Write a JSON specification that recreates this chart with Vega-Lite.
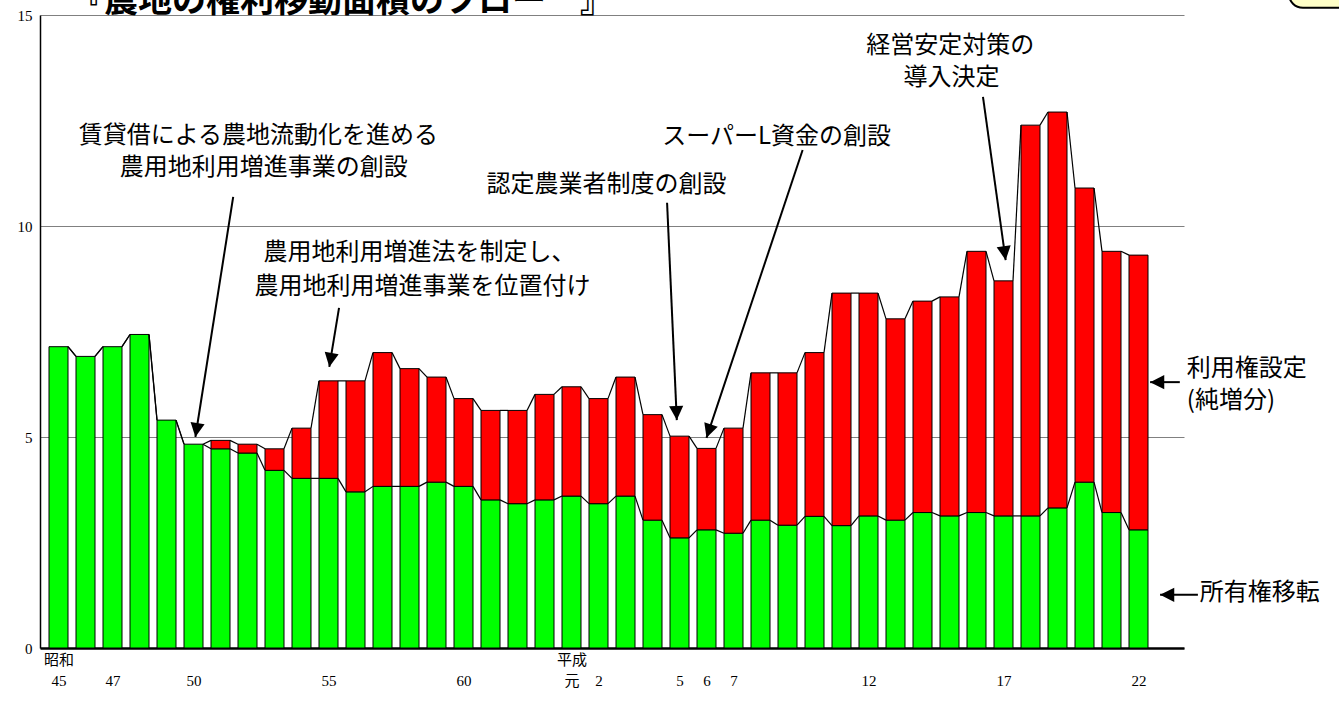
{
  "$schema": "https://vega.github.io/schema/vega-lite/v6.json",
  "width": 1144,
  "height": 633,
  "autosize": "none",
  "padding": {"left": 40, "top": 15, "right": 155, "bottom": 56},
  "background": "white",
  "config": {"view": {"stroke": null}},
  "datasets": {
    "flow": [
      {"year": 1970, "own": 7.14, "total": 7.14},
      {"year": 1971, "own": 6.91, "total": 6.91},
      {"year": 1972, "own": 7.14, "total": 7.14},
      {"year": 1973, "own": 7.43, "total": 7.43},
      {"year": 1974, "own": 5.40, "total": 5.40},
      {"year": 1975, "own": 4.83, "total": 4.83},
      {"year": 1976, "own": 4.72, "total": 4.92},
      {"year": 1977, "own": 4.62, "total": 4.83},
      {"year": 1978, "own": 4.21, "total": 4.72},
      {"year": 1979, "own": 4.02, "total": 5.21},
      {"year": 1980, "own": 4.02, "total": 6.33},
      {"year": 1981, "own": 3.70, "total": 6.33},
      {"year": 1982, "own": 3.83, "total": 7.00},
      {"year": 1983, "own": 3.83, "total": 6.62},
      {"year": 1984, "own": 3.93, "total": 6.42},
      {"year": 1985, "own": 3.83, "total": 5.91},
      {"year": 1986, "own": 3.51, "total": 5.63},
      {"year": 1987, "own": 3.42, "total": 5.63},
      {"year": 1988, "own": 3.51, "total": 6.01},
      {"year": 1989, "own": 3.60, "total": 6.19},
      {"year": 1990, "own": 3.42, "total": 5.91},
      {"year": 1991, "own": 3.60, "total": 6.42},
      {"year": 1992, "own": 3.03, "total": 5.53},
      {"year": 1993, "own": 2.61, "total": 5.02},
      {"year": 1994, "own": 2.80, "total": 4.73},
      {"year": 1995, "own": 2.72, "total": 5.21},
      {"year": 1996, "own": 3.03, "total": 6.52},
      {"year": 1997, "own": 2.91, "total": 6.52},
      {"year": 1998, "own": 3.12, "total": 7.00},
      {"year": 1999, "own": 2.90, "total": 8.41},
      {"year": 2000, "own": 3.13, "total": 8.41},
      {"year": 2001, "own": 3.03, "total": 7.80},
      {"year": 2002, "own": 3.21, "total": 8.22},
      {"year": 2003, "own": 3.13, "total": 8.32},
      {"year": 2004, "own": 3.21, "total": 9.40},
      {"year": 2005, "own": 3.13, "total": 8.70},
      {"year": 2006, "own": 3.13, "total": 12.39},
      {"year": 2007, "own": 3.32, "total": 12.70},
      {"year": 2008, "own": 3.93, "total": 10.90},
      {"year": 2009, "own": 3.21, "total": 9.40},
      {"year": 2010, "own": 2.80, "total": 9.31}
    ],
    "arrows": [
      {"name": "a", "x": 1976.47, "y": 10.69, "x2": 1975.07, "y2": 5.00},
      {"name": "b", "x": 1980.39, "y": 8.06, "x2": 1980.03, "y2": 6.66},
      {"name": "c", "x": 1992.54, "y": 10.55, "x2": 1992.90, "y2": 5.40},
      {"name": "d", "x": 1997.56, "y": 11.80, "x2": 1994.00, "y2": 4.98},
      {"name": "e", "x": 2004.24, "y": 13.06, "x2": 2005.08, "y2": 9.19},
      {"name": "f", "x": 2011.53, "y": 6.30, "x2": 2010.43, "y2": 6.30},
      {"name": "g", "x": 2012.2, "y": 1.26, "x2": 2010.8, "y2": 1.26}
    ],
    "notesCenter": [
      {"text": "賃貸借による農地流動化を進める", "x": 1977.4, "y": 12.13},
      {"text": "農用地利用増進事業の創設", "x": 1977.6, "y": 11.38},
      {"text": "農用地利用増進法を制定し、", "x": 1983.37, "y": 9.36},
      {"text": "農用地利用増進事業を位置付け", "x": 1983.48, "y": 8.55},
      {"text": "認定農業者制度の創設", "x": 1990.3, "y": 10.97},
      {"text": "スーパーL資金の創設", "x": 1996.6, "y": 12.11},
      {"text": "経営安定対策の", "x": 2003.03, "y": 14.27},
      {"text": "導入決定", "x": 2003.07, "y": 13.51}
    ],
    "notesLeft": [
      {"text": "利用権設定", "x": 2011.79, "y": 6.62},
      {"text": "(純増分)", "x": 2011.79, "y": 5.85},
      {"text": "所有権移転", "x": 2012.27, "y": 1.30}
    ],
    "heading": [
      {"text": "『農地の権利移動面積のフロー　』", "x": 1980.5, "y": 15.08}
    ],
    "callout": [
      {"x": 2015.57, "x2": 2020.2, "y": 16.1, "y2": 15.17}
    ]
  },
  "layer": [
    {
      "data": {"name": "flow"},
      "mark": {"type": "bar", "color": "#00FF00", "stroke": "black", "strokeWidth": 1, "width": 19},
      "encoding": {
        "x": {
          "field": "year", "type": "quantitative",
          "scale": {"domain": [1969.5, 2011.5], "nice": false, "zero": false},
          "axis": {
            "title": null,
            "values": [1970, 1972, 1975, 1980, 1985, 1989, 1990, 1993, 1994, 1995, 2000, 2005, 2010],
            "labelExpr": "datum.value == 1970 ? ['昭和', '45'] : datum.value == 1989 ? ['平成', '元'] : [' ', datum.value < 1989 ? '' + (datum.value - 1925) : '' + (datum.value - 1988)]",
            "labelFont": "Liberation Serif, Noto Sans CJK JP",
            "labelFontSize": 15,
            "labelColor": "black",
            "labelAngle": 0,
            "labelAlign": "center",
            "labelBaseline": "top",
            "labelLineHeight": 21,
            "labelPadding": 4,
            "labelOverlap": false,
            "labelBound": false,
            "labelFlush": false,
            "domainColor": "black",
            "domainWidth": 2.5,
            "ticks": false,
            "grid": false
          }
        },
        "y": {
          "field": "own", "type": "quantitative",
          "scale": {"domain": [0, 15], "nice": false, "zero": true},
          "axis": {
            "title": null,
            "values": [0, 5, 10, 15],
            "labelFont": "Liberation Serif",
            "labelFontSize": 15,
            "labelColor": "black",
            "labelPadding": 8,
            "domainColor": "black",
            "domainWidth": 1.5,
            "ticks": false,
            "grid": true,
            "gridColor": "#808080",
            "gridWidth": 1
          }
        }
      }
    },
    {
      "data": {"name": "flow"},
      "transform": [{"filter": "datum.total > datum.own"}],
      "mark": {"type": "bar", "color": "#FF0000", "stroke": "black", "strokeWidth": 1, "width": 19},
      "encoding": {
        "x": {"field": "year", "type": "quantitative"},
        "y": {"field": "total", "type": "quantitative"},
        "y2": {"field": "own"}
      }
    },
    {
      "data": {"name": "flow"},
      "transform": [
        {"window": [{"op": "lead", "field": "year", "as": "nextYear"}, {"op": "lead", "field": "own", "as": "nextOwn"}], "sort": [{"field": "year", "order": "ascending"}]},
        {"filter": "datum.nextYear != null"}
      ],
      "mark": {"type": "rule", "color": "black", "strokeWidth": 1.2, "xOffset": 9.5, "x2Offset": -9.5},
      "encoding": {
        "x": {"field": "year", "type": "quantitative"},
        "x2": {"field": "nextYear"},
        "y": {"field": "own", "type": "quantitative"},
        "y2": {"field": "nextOwn"}
      }
    },
    {
      "data": {"name": "flow"},
      "transform": [
        {"window": [{"op": "lead", "field": "year", "as": "nextYear"}, {"op": "lead", "field": "total", "as": "nextTotal"}], "sort": [{"field": "year", "order": "ascending"}]},
        {"filter": "datum.nextYear != null"}
      ],
      "mark": {"type": "rule", "color": "black", "strokeWidth": 1.2, "xOffset": 9.5, "x2Offset": -9.5},
      "encoding": {
        "x": {"field": "year", "type": "quantitative"},
        "x2": {"field": "nextYear"},
        "y": {"field": "total", "type": "quantitative"},
        "y2": {"field": "nextTotal"}
      }
    },
    {
      "data": {"name": "arrows"},
      "mark": {"type": "rule", "color": "black", "strokeWidth": 2},
      "encoding": {
        "x": {"field": "x", "type": "quantitative"},
        "x2": {"field": "x2"},
        "y": {"field": "y", "type": "quantitative"},
        "y2": {"field": "y2"}
      }
    },
    {
      "data": {"name": "arrows"},
      "mark": {"type": "point", "filled": true, "opacity": 1, "color": "black", "size": 200, "strokeWidth": 0},
      "encoding": {
        "x": {"field": "x2", "type": "quantitative"},
        "y": {"field": "y2", "type": "quantitative"},
        "shape": {
          "field": "name", "type": "nominal", "legend": null,
          "scale": {
            "domain": ["a", "b", "c", "d", "e", "f", "g"],
            "range": ["M0,0L1.30,-1.82L-0.68,-2.13Z", "M0,0L1.32,-1.81L-0.65,-2.14Z", "M0,0L0.91,-2.04L-1.09,-1.95Z", "M0,0L1.59,-1.58L-0.31,-2.22Z", "M0,0L0.71,-2.12L-1.27,-1.84Z", "M0,0L2,1L2,-1Z", "M0,0L2,1L2,-1Z"]
          }
        }
      }
    },
    {
      "data": {"name": "notesCenter"},
      "mark": {"type": "text", "font": "Noto Sans CJK JP", "fontSize": 24, "color": "black", "align": "center", "baseline": "middle"},
      "encoding": {
        "x": {"field": "x", "type": "quantitative"},
        "y": {"field": "y", "type": "quantitative"},
        "text": {"field": "text"}
      }
    },
    {
      "data": {"name": "notesLeft"},
      "mark": {"type": "text", "font": "Noto Sans CJK JP", "fontSize": 24, "color": "black", "align": "left", "baseline": "middle"},
      "encoding": {
        "x": {"field": "x", "type": "quantitative"},
        "y": {"field": "y", "type": "quantitative"},
        "text": {"field": "text"}
      }
    },
    {
      "data": {"name": "heading"},
      "mark": {"type": "text", "font": "Noto Sans CJK JP", "fontSize": 34, "fontWeight": "bold", "color": "black", "align": "center", "baseline": "alphabetic"},
      "encoding": {
        "x": {"field": "x", "type": "quantitative"},
        "y": {"field": "y", "type": "quantitative"},
        "text": {"field": "text"}
      }
    },
    {
      "data": {"name": "callout"},
      "mark": {"type": "rect", "fill": "#FFFFC8", "stroke": "black", "strokeWidth": 2, "cornerRadius": 14},
      "encoding": {
        "x": {"field": "x", "type": "quantitative"},
        "x2": {"field": "x2"},
        "y": {"field": "y", "type": "quantitative"},
        "y2": {"field": "y2"}
      }
    }
  ]
}
